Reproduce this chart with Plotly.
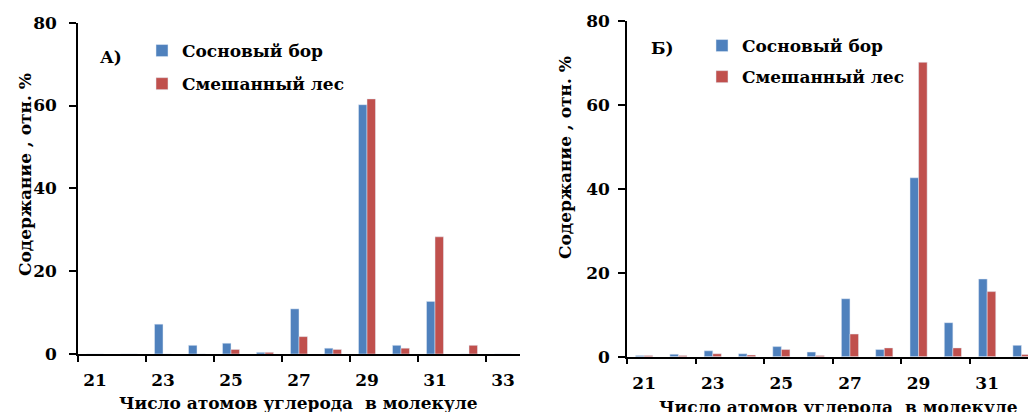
import plotly.graph_objects as go

# ---- data ----
carbon_a = [21, 22, 23, 24, 25, 26, 27, 28, 29, 30, 31, 32, 33]
pine_a = [0, 0, 7.2, 2.1, 2.6, 0.4, 10.9, 1.4, 60.2, 2.1, 12.7, 0, 0]
mixed_a = [0, 0, 0, 0, 1.1, 0.4, 4.2, 1.1, 61.6, 1.4, 28.3, 2.1, 0]

carbon_b = [21, 22, 23, 24, 25, 26, 27, 28, 29, 30, 31, 32]
pine_b = [0.3, 0.6, 1.4, 0.7, 2.4, 1.1, 13.8, 1.7, 42.6, 8.1, 18.5, 2.7]
mixed_b = [0.3, 0.3, 0.7, 0.4, 1.7, 0.3, 5.4, 2.1, 70.1, 2.1, 15.5, 0.5]

tick_labels = [21, 23, 25, 27, 29, 31, 33]
y_ticks = [0, 20, 40, 60, 80]

name_pine = "Сосновый бор"
name_mixed = "Смешанный лес"
blue = "#4F81BD"
red = "#C0504D"

W, H = 1028, 412
FONT = "DejaVu Serif"

fig = go.Figure()
fig.add_trace(go.Bar(x=carbon_a, y=pine_a, name=name_pine, marker_color=blue,
                     xaxis="x", yaxis="y", legend="legend", legendgroup="a1"))
fig.add_trace(go.Bar(x=carbon_a, y=mixed_a, name=name_mixed, marker_color=red,
                     xaxis="x", yaxis="y", legend="legend", legendgroup="a2"))
fig.add_trace(go.Bar(x=carbon_b, y=pine_b, name=name_pine, marker_color=blue,
                     xaxis="x2", yaxis="y2", legend="legend2", legendgroup="b1"))
fig.add_trace(go.Bar(x=carbon_b, y=mixed_b, name=name_mixed, marker_color=red,
                     xaxis="x2", yaxis="y2", legend="legend2", legendgroup="b2"))

def px(x):
    return x / W

def py(y):
    return 1 - y / H

tfont = dict(family=FONT, size=17, weight="bold", color="black")

xcommon = dict(
    tickmode="array", tickvals=tick_labels, ticks="outside", ticklen=10,
    tickcolor="rgba(0,0,0,0)", showline=True, linecolor="black", linewidth=1.5,
    showgrid=False, zeroline=False, tickfont=tfont, automargin=False,
    minor=dict(tickmode="array", tickvals=[20.5, 22.5, 24.5, 26.5, 28.5, 30.5, 32.5],
               ticks="outside", ticklen=6, tickcolor="black", tickwidth=1.5, showgrid=False),
)
ycommon = dict(
    range=[0, 80], tickmode="array", tickvals=y_ticks, ticks="outside", ticklen=7,
    tickcolor="black", tickwidth=1.5, showline=True, linecolor="black", linewidth=1.5,
    showgrid=False, zeroline=False, tickfont=tfont, automargin=False,
)

fig.update_layout(
    width=W, height=H, margin=dict(l=0, r=0, t=0, b=0, autoexpand=False),
    paper_bgcolor="white", plot_bgcolor="white",
    font=dict(family=FONT, color="black"),
    barmode="group", bargap=0.5, bargroupgap=0,
    xaxis=dict(domain=[px(78), px(520)], range=[20.5, 33.5], anchor="y", **xcommon),
    yaxis=dict(domain=[py(354), py(22.7)], anchor="x", ticklabelstandoff=9, **ycommon),
    xaxis2=dict(domain=[px(627), 1.0], range=[20.5, 32.19], anchor="y2", **xcommon),
    yaxis2=dict(domain=[py(356.7), py(20.7)], anchor="x2", ticklabelstandoff=5, **ycommon),
    legend=dict(x=px(142), y=py(33), xanchor="left", yanchor="top", font=tfont,
                bgcolor="rgba(0,0,0,0)", itemwidth=30, tracegroupgap=8),
    legend2=dict(x=px(702), y=py(28), xanchor="left", yanchor="top", font=tfont,
                 bgcolor="rgba(0,0,0,0)", itemwidth=30, tracegroupgap=6),
)

annotations = [
    dict(text="А)", x=px(111), y=py(57)),
    dict(text="Б)", x=px(662), y=py(48)),
    dict(text="Содержание , отн. %", x=px(25), y=py(175), textangle=-90),
    dict(text="Содержание , отн. %", x=px(565), y=py(158), textangle=-90),
    dict(text="Число атомов углерода  в молекуле", x=px(298), y=py(403)),
    dict(text="Число атомов углерода  в молекуле", x=px(838), y=py(407)),
]
for a in annotations:
    fig.add_annotation(xref="paper", yref="paper", showarrow=False,
                       xanchor="center", yanchor="middle", font=tfont, **a)

fig.write_html("out.html")
